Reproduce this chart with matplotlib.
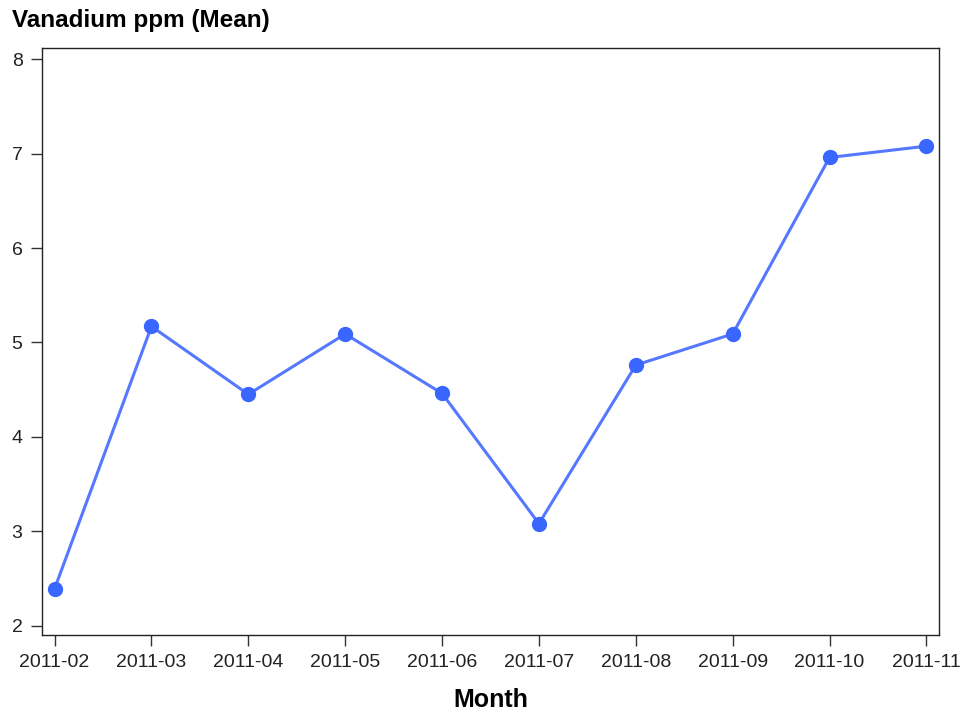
import matplotlib.pyplot as plt

plt.rcParams['font.family'] = ['Liberation Sans', 'DejaVu Sans']

months = ["2011-02", "2011-03", "2011-04", "2011-05", "2011-06",
          "2011-07", "2011-08", "2011-09", "2011-10", "2011-11"]
vanadium = [2.39, 5.17, 4.45, 5.09, 4.46, 3.08, 4.76, 5.09, 6.96, 7.08]

fig = plt.figure(figsize=(9.63, 7.11), dpi=100)
ax = fig.add_axes([42 / 963, 1 - 635 / 711, (939 - 42) / 963, (635 - 48) / 711])

x = list(range(len(months)))
ax.plot(x, vanadium, color="#5578ff", linewidth=2.2, marker="o",
        markersize=10, markerfacecolor="#3866ff", markeredgecolor="#3866ff")

ax.set_xlim(-0.13, len(months) - 1 + 0.13)
ax.set_ylim(1.9, 8.12)
ax.set_xticks(x)
ax.set_xticklabels(months)
ax.set_yticks(range(2, 9))
ax.tick_params(axis="both", labelsize=14, length=8, width=1, color="#333333",
               labelcolor="#222222", pad=6)
for s in ax.spines.values():
    s.set_color("#222222")
    s.set_linewidth(1)

ax.set_xlabel("Month", fontsize=18, fontweight="bold", labelpad=12)
fig.text(12 / 963, 1 - 20 / 711, "Vanadium ppm (Mean)", fontsize=17.5,
         fontweight="bold", va="center", ha="left")

fig.savefig("out.png", dpi=100)
